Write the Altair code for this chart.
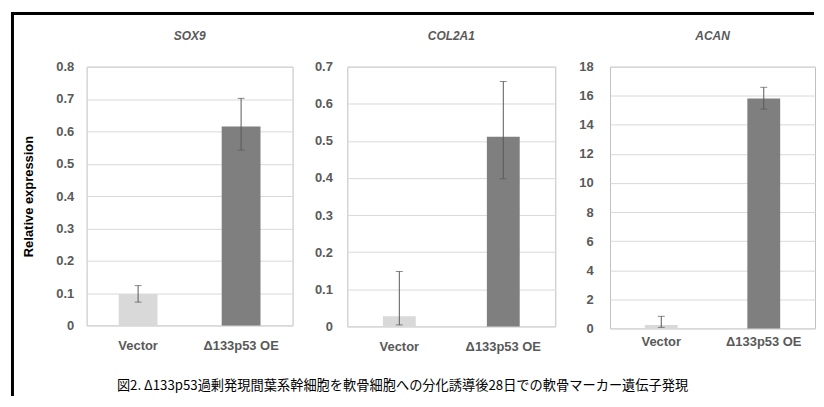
import altair as alt
import pandas as pd

categories = ["Vector", "Δ133p53 OE"]
bar_colors = ["#D9D9D9", "#7F7F7F"]

genes = ["SOX9", "COL2A1", "ACAN"]

sox9_mean = [0.097, 0.615]
sox9_lo = [0.072, 0.542]
sox9_hi = [0.123, 0.702]

col2a1_mean = [0.027, 0.511]
col2a1_lo = [0.004, 0.398]
col2a1_hi = [0.148, 0.660]

acan_mean = [0.23, 15.81]
acan_lo = [0.07, 15.08]
acan_hi = [0.83, 16.58]

sox9_ticks = [0, 0.1, 0.2, 0.3, 0.4, 0.5, 0.6, 0.7, 0.8]
col2a1_ticks = [0, 0.1, 0.2, 0.3, 0.4, 0.5, 0.6, 0.7]
acan_ticks = [0, 2, 4, 6, 8, 10, 12, 14, 16, 18]

y_label = "Relative expression"
caption = "図2. Δ133p53過剰発現間葉系幹細胞を軟骨細胞への分化誘導後28日での軟骨マーカー遺伝子発現"

ERR = "#595959"


def panel(gene, mean, lo, hi, ticks, width, height, bar_w, ylab_pad, xlab_pad, ytitle):
    df = pd.DataFrame({"cond": categories, "mean": mean, "lo": lo, "hi": hi})
    base = alt.Chart(df)
    xenc = alt.X(
        "cond:N",
        sort=categories,
        scale=alt.Scale(paddingInner=0, paddingOuter=0),
        axis=alt.Axis(title=None, labelAngle=0, labelPadding=xlab_pad, grid=False),
    )
    yscale = alt.Scale(domain=[ticks[0], ticks[-1]], nice=False)

    def yaxis():
        return alt.Axis(values=ticks, format="~g", labelPadding=ylab_pad, titlePadding=20,
                        labelOverlap=False, title=ytitle)

    bars = base.mark_bar(width=bar_w).encode(
        x=xenc,
        y=alt.Y("mean:Q", scale=yscale, axis=yaxis()),
        color=alt.Color("cond:N", scale=alt.Scale(domain=categories, range=bar_colors), legend=None),
    )
    err = base.mark_rule(color=ERR, strokeWidth=1).encode(
        x=xenc, y=alt.Y("lo:Q", scale=yscale, axis=yaxis()), y2="hi:Q"
    )
    cap_lo = base.mark_tick(color=ERR, size=7, thickness=1).encode(
        x=xenc, y=alt.Y("lo:Q", scale=yscale, axis=yaxis())
    )
    cap_hi = base.mark_tick(color=ERR, size=7, thickness=1).encode(
        x=xenc, y=alt.Y("hi:Q", scale=yscale, axis=yaxis())
    )
    return alt.layer(bars, err, cap_lo, cap_hi).properties(width=width, height=height, title=gene)


c1 = panel(genes[0], sox9_mean, sox9_lo, sox9_hi, sox9_ticks, 207, 260, 39, 13, 14, y_label)
c2 = panel(genes[1], col2a1_mean, col2a1_lo, col2a1_hi, col2a1_ticks, 209, 261, 33, 15, 14, None)
c3 = panel(genes[2], acan_mean, acan_lo, acan_hi, acan_ticks, 206, 263, 33, 17, 7, None)

# decoration cell: black frame (top + left) and the caption
one = pd.DataFrame({"caption": [caption]})
frame_left = alt.Chart(one).mark_rule(color="black", strokeWidth=3).encode(
    x=alt.value(1.5), y=alt.value(-55), y2=alt.value(331)
)
frame_top = alt.Chart(one).mark_rule(color="black", strokeWidth=3).encode(
    y=alt.value(-53.5), x=alt.value(0), x2=alt.value(807)
)
cap_text = alt.Chart(one).mark_text(
    font="Noto Sans CJK JP", fontSize=13.3, color="black", align="center", baseline="middle"
).encode(text="caption:N", x=alt.value(393.5), y=alt.value(321))

c0 = alt.layer(frame_left, frame_top, cap_text).properties(
    width=21, height=1, view=alt.ViewConfig(stroke=None)
)

chart = (
    alt.hconcat(c0, c1, c2, c3, spacing=55, bounds="flush")
    .properties(padding={"left": 1, "top": 1, "right": 0, "bottom": 0}, background="white")
    .configure_view(stroke="#BFBFBF", strokeWidth=1)
    .configure_axis(
        labelFont="Liberation Sans",
        labelFontWeight="bold",
        labelFontSize=13,
        labelColor="#595959",
        domain=False,
        ticks=False,
        tickSize=0,
        gridColor="#D9D9D9",
        titleFont="Liberation Sans",
        titleFontSize=13,
        titleFontWeight="bold",
        titleColor="black",
    )
    .configure_title(
        font="Liberation Sans",
        fontSize=12,
        fontStyle="italic",
        fontWeight="bold",
        color="#595959",
        offset=18,
        anchor="middle",
    )
)

chart.save("out.html", embed_options={"renderer": "svg", "actions": False})
